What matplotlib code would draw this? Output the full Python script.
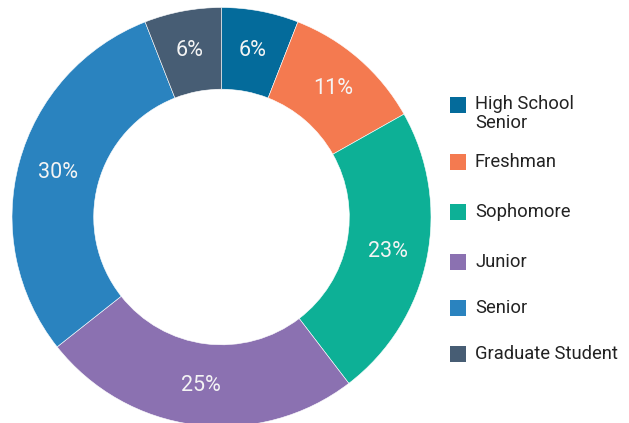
import matplotlib
matplotlib.use('Agg')
import matplotlib.pyplot as plt
from matplotlib.patches import Rectangle

# 학년별 분포
labels = ['High School\nSenior', 'Freshman', 'Sophomore', 'Junior', 'Senior', 'Graduate Student']
values = [6, 11, 23, 25, 30, 6]
colors = ['#046b9b', '#f47a50', '#0db096', '#8b71b1', '#2a83bf', '#475d74']

plt.rcParams['font.family'] = ['Roboto', 'DejaVu Sans']

W, H = 629, 423
fig = plt.figure(figsize=(W / 100, H / 100), dpi=100)

# 도넛 위치 (픽셀 기준): 중심 (221.5, 217), 반지름 209.5
cx, cy, r = 221.5, 217, 209.5
ax = fig.add_axes([(cx - r) / W, (H - cy - r) / H, 2 * r / W, 2 * r / H])

wedges, texts, autotexts = ax.pie(
    values, colors=colors, startangle=90, counterclock=False,
    radius=1, pctdistance=0.81,
    autopct=lambda p: f'{p:.0f}%',
    wedgeprops=dict(width=0.39, edgecolor='white', linewidth=0.4),
    textprops=dict(color='#f4f4f4', fontsize=15.5))
ax.set_xlim(-1, 1)
ax.set_ylim(-1, 1)
ax.axis('off')

# 범례 (직접 그리기)
ys = [104.7, 162, 212, 262, 308, 353.7]
for lab, col, y in zip(labels, colors, ys):
    fig.patches.append(Rectangle((450 / W, (H - y - 8) / H), 16 / W, 16 / H,
                                 transform=fig.transFigure, facecolor=col,
                                 edgecolor='none'))
    if '\n' in lab:
        fig.text(475 / W, (H - y + 10) / H, lab, ha='left', va='top',
                 fontsize=13.2, color='#222222', linespacing=1.1)
    else:
        fig.text(475 / W, (H - y) / H, lab, ha='left', va='center',
                 fontsize=13.2, color='#222222')

plt.savefig('out.png', dpi=100)
